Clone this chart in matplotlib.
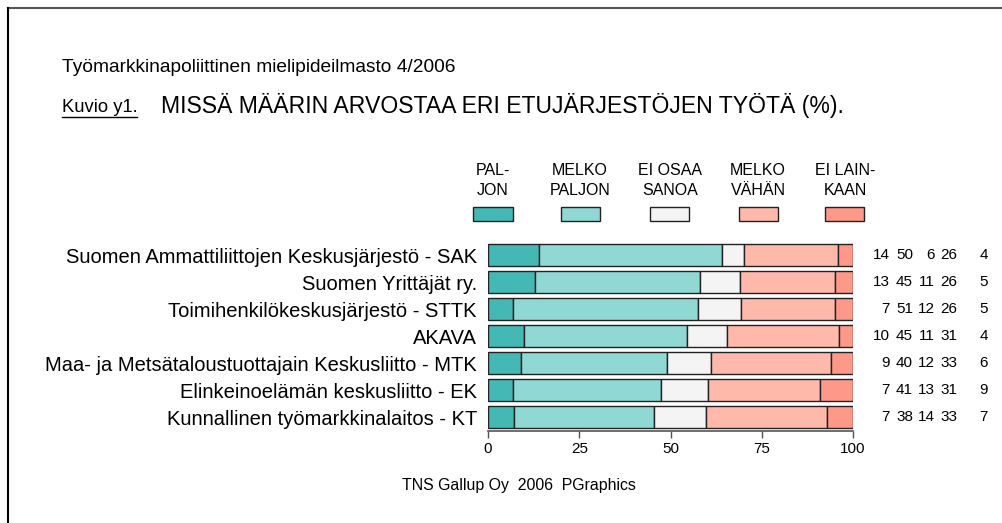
import matplotlib
matplotlib.use("Agg")
import matplotlib.pyplot as plt
from matplotlib.patches import Rectangle
from matplotlib.lines import Line2D
import numpy as np

categories = [
    "Suomen Ammattiliittojen Keskusjärjestö - SAK",
    "Suomen Yrittäjät ry.",
    "Toimihenkilökeskusjärjestö - STTK",
    "AKAVA",
    "Maa- ja Metsätaloustuottajain Keskusliitto - MTK",
    "Elinkeinoelämän keskusliitto - EK",
    "Kunnallinen työmarkkinalaitos - KT",
]
paljon = [14, 13, 7, 10, 9, 7, 7]
melko_paljon = [50, 45, 51, 45, 40, 41, 38]
ei_osaa = [6, 11, 12, 11, 12, 13, 14]
melko_vahan = [26, 26, 26, 31, 33, 31, 33]
ei_lainkaan = [4, 5, 5, 4, 6, 9, 7]
series_labels = [("PAL-", "JON"), ("MELKO", "PALJON"), ("EI OSAA", "SANOA"),
                 ("MELKO", "VÄHÄN"), ("EI LAIN-", "KAAN")]
colors = ["#44B8B4", "#8FD8D4", "#F4F4F4", "#FEB9AB", "#FE9888"]
xticks = [0, 25, 50, 75, 100]

plt.rcParams['font.family'] = ['Liberation Sans', 'DejaVu Sans']

W, H = 1003, 523
fig = plt.figure(figsize=(W / 100, H / 100), dpi=100)

def fx(px):
    return px / W

def fy(py):
    return 1 - py / H

ax = fig.add_axes([fx(488), fy(430.5), fx(853) - fx(488), fy(241.5) - fy(430.5)])

data = np.array([paljon, melko_paljon, ei_osaa, melko_vahan, ei_lainkaan], dtype=float)
totals = data.sum(axis=0)
norm = data / totals * 100
ypos = np.arange(len(categories))
left = np.zeros(len(categories))
for i in range(5):
    ax.barh(ypos, norm[i], left=left, height=0.78, color=colors[i],
            edgecolor="#222222", linewidth=1.0)
    left += norm[i]

ax.set_xlim(0, 100)
ax.set_ylim(6.5, -0.5)
for s in ["top", "right", "left"]:
    ax.spines[s].set_visible(False)
ax.spines["bottom"].set_color("#555555")
ax.spines["bottom"].set_linewidth(1.2)
ax.set_xticks(xticks)
ax.set_xticklabels([str(t) for t in xticks], fontsize=11)
ax.tick_params(axis="x", direction="out", length=5, width=1, color="#555555", pad=3)
ax.set_yticks(ypos)
ax.set_yticklabels(categories, fontsize=14.5)
ax.tick_params(axis="y", length=0, pad=8)

# value columns (right edges in pixels)
col_right_px = [890, 913, 935, 957, 988]
for r in range(len(categories)):
    for c in range(5):
        xd = (col_right_px[c] - 488) / 3.65
        ax.text(xd, r, str(int(data[c, r])), ha="right", va="center",
                fontsize=11, clip_on=False)

# legend
box_centers = [493, 580, 670, 758, 845]
for i, (l1, l2) in enumerate(series_labels):
    cx = box_centers[i]
    fig.add_artist(Rectangle((fx(cx - 19.5), fy(221)), 39 / W, 14.5 / H,
                             transform=fig.transFigure, facecolor=colors[i],
                             edgecolor="#222222", linewidth=1.0))
    fig.text(fx(cx), fy(175), l1, ha="center", va="baseline", fontsize=11.5)
    fig.text(fx(cx), fy(195), l2, ha="center", va="baseline", fontsize=11.5)

# titles
fig.text(fx(62), fy(72), "Työmarkkinapoliittinen mielipideilmasto 4/2006",
         ha="left", va="baseline", fontsize=13.8)
fig.text(fx(62), fy(112.5), "Kuvio y1.", ha="left", va="baseline", fontsize=13.2)
fig.add_artist(Line2D([fx(62), fx(137)], [fy(116.5), fy(116.5)], transform=fig.transFigure,
                      color="black", linewidth=1))
fig.text(fx(161), fy(113.5), "MISSÄ MÄÄRIN ARVOSTAA ERI ETUJÄRJESTÖJEN TYÖTÄ (%).",
         ha="left", va="baseline", fontsize=16.6)
fig.text(fx(519), fy(490), "TNS Gallup Oy  2006  PGraphics", ha="center",
         va="baseline", fontsize=11.4)

# frame lines (top and left)
fig.add_artist(Line2D([fx(8), fx(W)], [fy(7.5), fy(7.5)], transform=fig.transFigure,
                      color="#555555", linewidth=1.5))
fig.add_artist(Line2D([fx(8), fx(8)], [fy(7.5), fy(H)], transform=fig.transFigure,
                      color="black", linewidth=1.5))

fig.savefig("out.png", dpi=100)
